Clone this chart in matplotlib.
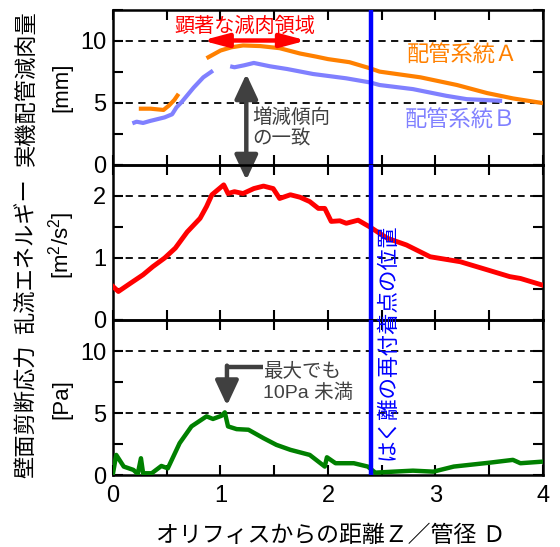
import matplotlib
matplotlib.use('Agg')
import matplotlib.pyplot as plt
from matplotlib.ticker import MultipleLocator
from matplotlib.patches import FancyArrowPatch

plt.rcParams['font.family'] = ['Liberation Sans', 'Noto Sans CJK JP', 'DejaVu Sans']
plt.rcParams['mathtext.fontset'] = 'custom'
plt.rcParams['mathtext.rm'] = 'Liberation Sans'
plt.rcParams['mathtext.it'] = 'Liberation Sans'

# wall thinning [mm], system A (two segments) and system B (two segments)
a1_x = [0.24, 0.35, 0.47, 0.52, 0.57, 0.61]
a1_y = [4.5, 4.5, 4.4, 4.75, 5.2, 5.7]
a2_x = [0.87, 1.0, 1.1, 1.21, 1.37, 1.55, 1.74, 1.89, 2.0, 2.2, 2.39, 2.48, 2.86, 3.2, 3.48, 3.72, 4.0]
a2_y = [8.57, 9.19, 9.45, 9.6, 9.55, 9.38, 8.95, 8.7, 8.5, 8.25, 7.76, 7.49, 7.03, 6.41, 5.76, 5.33, 4.95]
b1_x = [0.18, 0.22, 0.28, 0.34, 0.41, 0.48, 0.55, 0.59, 0.64, 0.75, 0.84, 0.93]
b1_y = [3.32, 3.45, 3.35, 3.5, 3.65, 3.8, 4.05, 4.6, 5.05, 6.2, 7.03, 7.57]
b2_x = [1.09, 1.13, 1.22, 1.31, 1.46, 1.62, 1.86, 2.17, 2.39, 2.48, 2.79, 3.1, 3.29, 3.62]
b2_y = [7.92, 7.84, 8.0, 8.19, 7.92, 7.7, 7.3, 6.95, 6.62, 6.41, 6.08, 5.54, 5.27, 5.13]

# turbulent energy [m2/s2]
tke_x = [0, 0.05, 0.16, 0.28, 0.37, 0.48, 0.58, 0.69, 0.81, 0.87, 0.92, 1.03, 1.07, 1.13, 1.21,
         1.31, 1.40, 1.49, 1.55, 1.65, 1.74, 1.83, 1.91, 1.97, 2.03, 2.11, 2.17, 2.28, 2.39,
         2.55, 2.73, 2.95, 3.23, 3.48, 3.69, 3.79, 4.0]
tke_y = [0.54, 0.46, 0.59, 0.73, 0.86, 1.0, 1.16, 1.42, 1.64, 1.83, 2.02, 2.18, 2.04, 2.07, 2.04,
         2.12, 2.16, 2.12, 1.96, 2.02, 1.98, 1.91, 1.8, 1.8, 1.59, 1.6, 1.56, 1.61, 1.5,
         1.32, 1.21, 1.02, 0.94, 0.81, 0.70, 0.67, 0.56]

# wall shear stress [Pa]
tau_x = [0.0, 0.03, 0.1, 0.19, 0.23, 0.26, 0.28, 0.36, 0.45, 0.51, 0.62, 0.73, 0.87, 0.93, 1.01,
         1.04, 1.07, 1.15, 1.26, 1.40, 1.52, 1.65, 1.83, 1.97, 1.99, 2.07, 2.24, 2.37, 2.44,
         2.61, 2.79, 2.98, 3.17, 3.51, 3.72, 3.79, 4.0]
tau_y = [0.14, 1.62, 0.68, 0.41, 0.08, 1.35, 0.14, 0.14, 0.73, 0.54, 2.57, 3.92, 4.73, 4.52, 4.78,
         5.05, 3.92, 3.7, 3.65, 2.97, 2.43, 2.03, 1.62, 0.68, 1.43, 0.95, 0.95, 0.68, 0.19,
         0.27, 0.35, 0.27, 0.68, 1.0, 1.22, 0.95, 1.08]

reattach_x = 2.40

fig = plt.figure(figsize=(5.6, 5.47), dpi=100)
W, H = 560.0, 547.0
left, right = 113 / W, 543 / W
tops = [9.5, 165, 320]
ph = 155

axes = []
for t in tops:
    ax = fig.add_axes([left, 1 - (t + ph) / H, right - left, ph / H])
    ax.set_facecolor('none')
    axes.append(ax)
ax1, ax2, ax3 = axes

ylims = [(0, 12.5), (0, 2.5), (0, 12.5)]
ymaj = [5, 1, 5]
grid_y = [[5, 10], [1, 2], [5, 10]]
for ax, yl, ym, gy in zip(axes, ylims, ymaj, grid_y):
    ax.set_xlim(0, 4)
    ax.set_ylim(*yl)
    ax.xaxis.set_major_locator(MultipleLocator(1))
    ax.xaxis.set_minor_locator(MultipleLocator(0.5))
    ax.yaxis.set_major_locator(MultipleLocator(ym))
    ax.yaxis.set_minor_locator(MultipleLocator(ym / 2))
    ax.tick_params(which='both', direction='in', top=True, right=True, length=7, width=1.5,
                   labelsize=17, pad=5)
    ax.tick_params(axis='x', pad=7)
    for s in ax.spines.values():
        s.set_linewidth(1.8)
    for g in gy:
        ax.axhline(g, color='black', lw=1.3, ls=(0, (4, 3)), zorder=1)
    ax.axvline(reattach_x, color='#0000ff', lw=3.2, zorder=4)
    if ax is not ax3:
        ax.tick_params(labelbottom=False)

# top panel
ax1.plot(a1_x, a1_y, color='#ff8000', lw=3, solid_capstyle='butt', zorder=3)
ax1.plot(a2_x, a2_y, color='#ff8000', lw=3, solid_capstyle='butt', zorder=3)
ax1.plot(b1_x, b1_y, color='#8080ff', lw=3, solid_capstyle='butt', zorder=3)
ax1.plot(b2_x, b2_y, color='#8080ff', lw=3, solid_capstyle='butt', zorder=3)
ax1.text(3.25, 8.7, '配管系統Ａ', color='#ff8000', fontsize=16, ha='center', va='center')
ax1.text(3.23, 3.5, '配管系統Ｂ', color='#8080ff', fontsize=16, ha='center', va='center')
ax1.text(1.23, 11.15, '顕著な減肉領域', color='#ff0000', fontsize=14.5, ha='center', va='center')
ax1.add_patch(FancyArrowPatch((0.83, 10), (1.8, 10), arrowstyle='<|-|>,head_length=1.5,head_width=0.4',
                              mutation_scale=10, color='#ff0000', lw=3.2, shrinkA=0, shrinkB=0, zorder=5))
ax1.add_patch(FancyArrowPatch((1.24, 7.3), (1.24, -1.25), arrowstyle='<|-|>,head_length=1.5,head_width=0.7',
                              mutation_scale=10, color='#404040', lw=3.2, shrinkA=0, shrinkB=0,
                              zorder=5, clip_on=False))
ax1.text(1.30, 3.8, '増減傾向', color='#404040', fontsize=14, ha='left', va='center')
ax1.text(1.30, 2.0, 'の一致', color='#404040', fontsize=14, ha='left', va='center')

# middle panel
ax2.plot(tke_x, tke_y, color='#ff0000', lw=3.5, zorder=3)

# bottom panel
ax3.plot(tau_x, tau_y, color='#008000', lw=3.2, zorder=3)
ax3.plot([1.40, 1.06], [8.7, 8.7], color='#404040', lw=3.2, solid_capstyle='butt', zorder=5)
ax3.add_patch(FancyArrowPatch((1.06, 8.82), (1.06, 5.6), arrowstyle='-|>,head_length=1.5,head_width=0.7',
                              mutation_scale=10, color='#404040', lw=3.2, shrinkA=0, shrinkB=0, zorder=5))
ax3.text(1.40, 8.3, '最大でも', color='#404040', fontsize=14, ha='left', va='center')
ax3.text(1.40, 6.65, '10Pa 未満', color='#404040', fontsize=14, ha='left', va='center')

fig.text(388 / W, 1 - 342 / H, 'はく離の再付着点の位置', color='#0000ff', fontsize=15.5,
         rotation=90, ha='center', va='center')

# y labels (two columns each); japanese column sits a bit lower than the panel centre
ylab = [('実機配管減肉量', '[mm]'), ('乱流エネルギー', r'[m$^2$/s$^2$]'), ('壁面剪断応力', '[Pa]')]
jp_y = [88, 256, 411]
unit_y = [87, 245, 399]
for jp, unit, jy, uy in zip([l[0] for l in ylab], [l[1] for l in ylab], jp_y, unit_y):
    fig.text(27 / W, 1 - jy / H, jp, fontsize=16, rotation=90, ha='center', va='center')
    fig.text(62 / W, 1 - uy / H, unit, fontsize=16, rotation=90, ha='center', va='center')

fig.text(331 / W, 1 - 535 / H, 'オリフィスからの距離Ｚ／管径 Ｄ', fontsize=16.5, ha='center', va='center')

fig.savefig('out.png', dpi=100)
